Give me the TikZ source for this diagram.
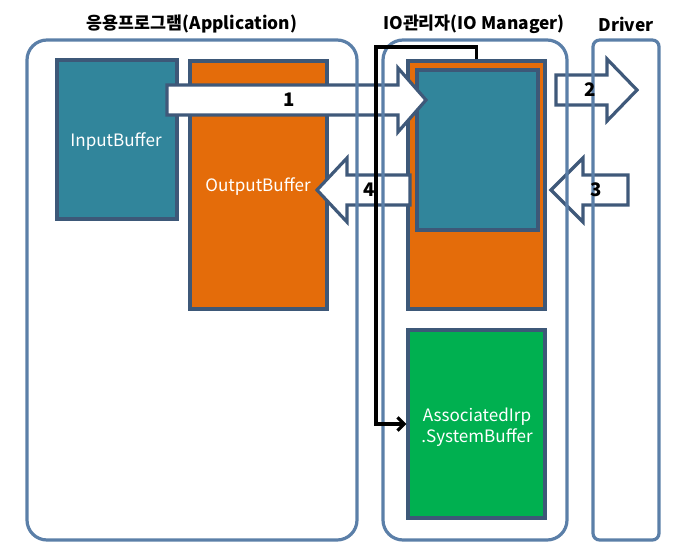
\documentclass[tikz,border=0pt]{standalone}
\usepackage{fontspec}
\setmainfont{Noto Sans CJK KR}
\usetikzlibrary{arrows.meta}
\definecolor{contb}{RGB}{91,127,168}
\definecolor{boxb}{RGB}{61,88,120}
\definecolor{tealf}{RGB}{49,133,155}
\definecolor{orangef}{RGB}{228,108,10}
\definecolor{greenf}{RGB}{0,176,80}
\definecolor{arrb}{RGB}{63,89,122}
\begin{document}
\begin{tikzpicture}[x=0.75pt,y=-0.75pt,
  container/.style={draw=contb,line width=2.4pt,rounded corners=15pt},
  buf/.style={draw=boxb,line width=2.4pt,inner sep=0pt},
  buflbl/.style={text=white,font=\fontsize{12.8}{15.5}\selectfont,align=center,inner sep=0pt},
  blockarrow/.style={draw=arrb,fill=white,line width=2.4pt,line join=miter},
  num/.style={font=\bfseries\fontsize{14}{16}\selectfont,inner sep=0pt},
  title/.style={font=\bfseries\fontsize{13}{15}\selectfont,inner sep=0pt}]
\useasboundingbox (0,0) rectangle (685,557);
% buffers
\node[buf,fill=tealf,minimum width=120*0.75pt,minimum height=159*0.75pt] (inbuf) at (117,139.5) {};
\node[buf,fill=orangef,minimum width=137*0.75pt,minimum height=248*0.75pt] (outbuf) at (258.5,185) {};
\node[buf,fill=orangef,minimum width=137*0.75pt,minimum height=248*0.75pt] (ioout) at (476.5,185) {};
\node[buf,fill=tealf,minimum width=121*0.75pt,minimum height=160*0.75pt] (ioin) at (477.5,150) {};
\node[buf,fill=greenf,minimum width=137*0.75pt,minimum height=188*0.75pt] (sysbuf) at (476.5,424) {};
\node[buflbl] (inlbl) at (116,142) {InputBuffer};
\node[buflbl] (outlbl) at (258,187) {OutputBuffer};
\node[buflbl] (syslbl) at (477,427) {AssociatedIrp\\.SystemBuffer};
% block arrows
\draw[blockarrow] (167,85) -- (398,85) -- (398,68) -- (426,100) -- (398,132) -- (398,115) -- (167,115) -- cycle;
\draw[blockarrow] (556,75) -- (607,75) -- (607,59) -- (637,90) -- (607,121) -- (607,105) -- (556,105) -- cycle;
\draw[blockarrow] (628,175) -- (583,175) -- (583,158) -- (551,190) -- (583,222) -- (583,205) -- (628,205) -- cycle;
\draw[blockarrow] (410,175) -- (347,175) -- (347,158) -- (317,190) -- (347,222) -- (347,205) -- (410,205) -- cycle;
% containers
\draw[container] (27,40) rectangle (357,540);
\draw[container] (383,40) rectangle (567,540);
\draw[container,rounded corners=5pt] (593,40) rectangle (659,540);
% titles
\node[title] (t1) at (192,24) {응용프로그램(Application)};
\node[title] (t2) at (474,24) {IO관리자(IO Manager)};
\node[title] (t3) at (626,24) {Driver};
% black connector
\coordinate (bend) at (376,47);
\draw[line width=2.4pt,-{Straight Barb[length=5pt,width=10pt]}] (ioout.north) |- (bend) |- (sysbuf.west);
% arrow numbers
\node[num] (n1) at (289,100) {1};
\node[num] (n2) at (590,90) {2};
\node[num] (n3) at (596,190) {3};
\node[num] (n4) at (369,190) {4};
\end{tikzpicture}
\end{document}
